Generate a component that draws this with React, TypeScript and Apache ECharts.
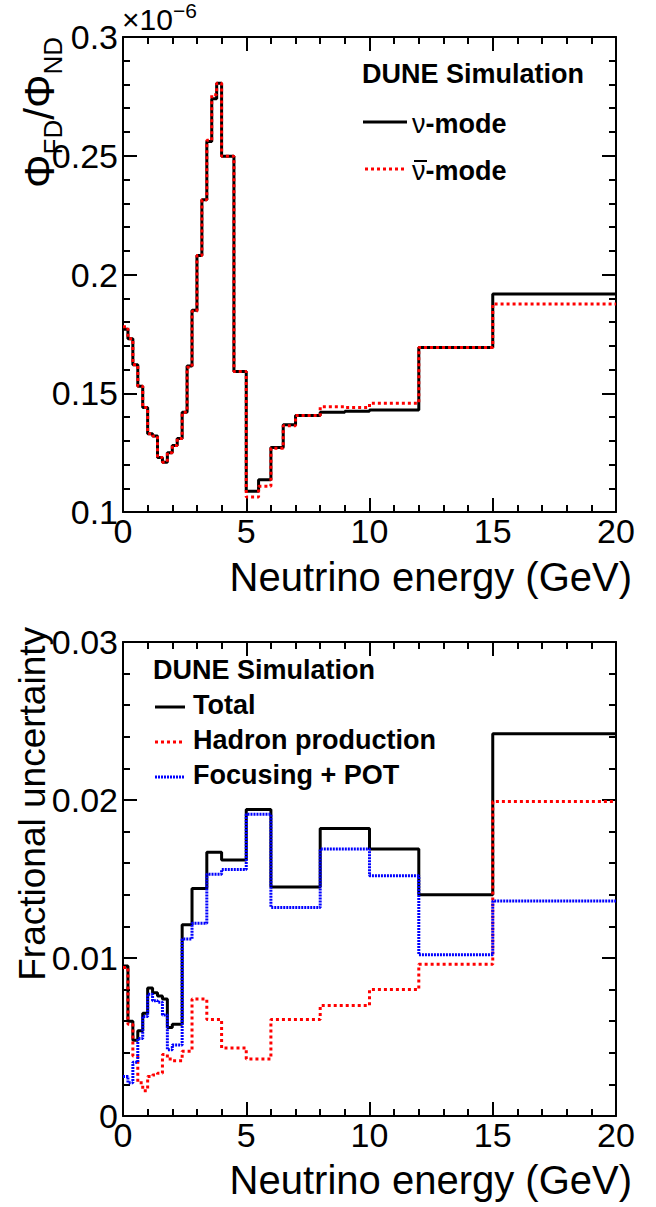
import React, { useEffect, useRef } from 'react';
import * as echarts from 'echarts';

const FONT = '"Liberation Sans", Arial, Helvetica, sans-serif';

// ---------- Top panel: far/near flux ratio (x 1e-6) ----------
const topEdges = [0, 0.2, 0.4, 0.6, 0.8, 1.0, 1.2, 1.4, 1.6, 1.8, 2.0, 2.2, 2.4, 2.6, 2.8, 3.0, 3.2, 3.4, 3.6, 3.8, 4.0, 4.5, 5.0, 5.5, 6.0, 6.5, 7.0, 8.0, 9.0, 10, 12, 15, 20];
const nuModeRatio = [0.177, 0.173, 0.162, 0.153, 0.144, 0.133, 0.132, 0.123, 0.121, 0.125, 0.128, 0.131, 0.142, 0.1615, 0.185, 0.208, 0.2315, 0.256, 0.274, 0.2805, 0.2498, 0.1592, 0.1087, 0.1136, 0.1272, 0.1367, 0.1406, 0.142, 0.1424, 0.1429, 0.1693, 0.1918];
const antiNuModeRatio = [0.178, 0.173, 0.162, 0.153, 0.144, 0.133, 0.132, 0.123, 0.121, 0.125, 0.128, 0.131, 0.142, 0.161, 0.1845, 0.208, 0.2315, 0.2565, 0.2757, 0.2805, 0.2498, 0.1592, 0.1063, 0.1108, 0.1268, 0.1363, 0.1406, 0.1443, 0.144, 0.1458, 0.1693, 0.1876];
const topYTicks = [0.1, 0.15, 0.2, 0.25, 0.3];

// ---------- Bottom panel: fractional uncertainty ----------
const bottomEdges = [0, 0.2, 0.4, 0.6, 0.8, 1.0, 1.2, 1.4, 1.6, 1.8, 2.0, 2.4, 2.8, 3.4, 4.0, 5, 6, 8, 10, 12, 15, 20];
const totalUnc = [0.0095, 0.006, 0.0048, 0.0054, 0.0065, 0.0081, 0.0078, 0.0076, 0.0074, 0.0056, 0.0058, 0.0121, 0.0144, 0.0167, 0.0162, 0.0194, 0.0145, 0.0182, 0.0169, 0.014, 0.0242];
const hadronUnc = [0.0094, 0.0058, 0.0038, 0.0021, 0.0016, 0.0025, 0.0026, 0.0027, 0.0039, 0.0036, 0.0035, 0.0041, 0.0074, 0.0061, 0.0043, 0.0036, 0.0061, 0.007, 0.008, 0.0096, 0.0199];
const focusingUnc = [0.0025, 0.0021, 0.0034, 0.0049, 0.0063, 0.0077, 0.0073, 0.0072, 0.0064, 0.0042, 0.0045, 0.0112, 0.0122, 0.0153, 0.0156, 0.0191, 0.0132, 0.0169, 0.0152, 0.0102, 0.0136];

const xTickLabels = ['0', '5', '10', '15', '20'];

function stepData(edges: number[], vals: number[]) {
  return edges.map((e, i) => [e, vals[Math.min(i, vals.length - 1)]]);
}

const BLACK = '#000000';
const RED = '#ff0000';
const BLUE = '#0000ff';
const RED_DASH = [3, 3];
const BLUE_DASH = [2, 1];

function xAxisCfg(gridIndex: number, position: 'top' | 'bottom', showLabel: boolean) {
  return {
    type: 'value',
    gridIndex,
    position,
    min: 0,
    max: 20,
    interval: 5,
    axisLine: { show: true, onZero: false, lineStyle: { color: BLACK, width: 2 } },
    axisTick: { show: true, inside: true, length: 14, lineStyle: { color: BLACK, width: 2 } },
    minorTick: { show: true, splitNumber: 5, length: 7, lineStyle: { color: BLACK, width: 2 } },
    splitLine: { show: false },
    axisLabel: {
      show: showLabel,
      color: BLACK,
      fontSize: 34,
      fontFamily: FONT,
      margin: 2,
      formatter: (v: number) => xTickLabels[Math.round(v / 5)] ?? String(v),
    },
  };
}

function yAxisCfg(gridIndex: number, position: 'left' | 'right', showLabel: boolean, min: number, max: number, interval: number, digits: number) {
  return {
    type: 'value',
    gridIndex,
    position,
    min,
    max,
    interval,
    axisLine: { show: true, onZero: false, lineStyle: { color: BLACK, width: 2 } },
    axisTick: { show: true, inside: true, length: 14, lineStyle: { color: BLACK, width: 2 } },
    minorTick: { show: true, splitNumber: 5, length: 7, lineStyle: { color: BLACK, width: 2 } },
    splitLine: { show: false },
    axisLabel: {
      show: showLabel,
      color: BLACK,
      fontSize: 34,
      fontFamily: FONT,
      margin: 5,
      formatter: (v: number) => String(+v.toFixed(digits)),
    },
  };
}

function stepSeries(name: string, xi: number, yi: number, edges: number[], vals: number[], color: string, dash: any, z: number) {
  return {
    name,
    type: 'line',
    xAxisIndex: xi,
    yAxisIndex: yi,
    step: 'end',
    symbol: 'none',
    silent: true,
    z,
    data: stepData(edges, vals),
    lineStyle: { color, width: 3, type: dash, cap: 'butt' },
    itemStyle: { color },
  };
}

function txt(x: number, y: number, text: string, extra: any = {}, rotation = 0) {
  return {
    type: 'text',
    x,
    y,
    rotation,
    silent: true,
    style: {
      text,
      fill: BLACK,
      fontFamily: FONT,
      fontSize: 27,
      fontWeight: 'bold',
      align: 'left',
      verticalAlign: 'middle',
      ...extra,
    },
  };
}

function legLine(x1: number, x2: number, y: number, color: string, dash: any) {
  return {
    type: 'line',
    silent: true,
    shape: { x1, y1: y, x2, y2: y },
    style: { stroke: color, lineWidth: 3, lineDash: dash },
  };
}

export default function App() {
  const ref = useRef<HTMLDivElement>(null);

  useEffect(() => {
    document.body.style.margin = '0';
    if (!ref.current) return;
    const chart = echarts.init(ref.current, undefined, { renderer: 'svg' });

    const option: any = {
      animation: false,
      backgroundColor: '#ffffff',
      grid: [
        { left: 123, top: 37, width: 493, height: 475 },
        { left: 123, top: 642, width: 493, height: 474 },
      ],
      xAxis: [
        xAxisCfg(0, 'bottom', true),
        xAxisCfg(0, 'top', false),
        xAxisCfg(1, 'bottom', true),
        xAxisCfg(1, 'top', false),
      ],
      yAxis: [
        yAxisCfg(0, 'left', true, topYTicks[0], topYTicks[topYTicks.length - 1], 0.05, 2),
        yAxisCfg(0, 'right', false, topYTicks[0], topYTicks[topYTicks.length - 1], 0.05, 2),
        yAxisCfg(1, 'left', true, 0, 0.03, 0.01, 3),
        yAxisCfg(1, 'right', false, 0, 0.03, 0.01, 3),
      ],
      series: [
        stepSeries('ν-mode', 0, 0, topEdges, nuModeRatio, BLACK, 'solid', 2),
        stepSeries('ν̄-mode', 0, 0, topEdges, antiNuModeRatio, RED, RED_DASH, 3),
        stepSeries('Total', 2, 2, bottomEdges, totalUnc, BLACK, 'solid', 2),
        stepSeries('Hadron production', 2, 2, bottomEdges, hadronUnc, RED, RED_DASH, 3),
        stepSeries('Focusing + POT', 2, 2, bottomEdges, focusingUnc, BLUE, BLUE_DASH, 4),
      ],
      graphic: [
        // exponent of top panel
        txt(122, 17, '{a|×10}{b|−6}', {
          fontWeight: 'normal',
          rich: {
            a: { fontSize: 30, fontFamily: FONT, fill: BLACK, verticalAlign: 'bottom' },
            b: { fontSize: 21, fontFamily: FONT, fill: BLACK, verticalAlign: 'top', padding: [0, 0, 14, 0] },
          },
        }),
        // top y title
        txt(42, 37, '{m|Φ}{s|FD}{m|/Φ}{s|ND}', {
          fontWeight: 'normal',
          align: 'right',
          rich: {
            m: { fontSize: 42, fontFamily: FONT, fill: BLACK, verticalAlign: 'top' },
            s: { fontSize: 26, fontFamily: FONT, fill: BLACK, verticalAlign: 'bottom', padding: [22, 0, 0, 0] },
          },
        }, Math.PI / 2),
        // x titles
        txt(632, 577, 'Neutrino energy (GeV)', { fontWeight: 'normal', fontSize: 40, align: 'right' }),
        txt(632, 1180, 'Neutrino energy (GeV)', { fontWeight: 'normal', fontSize: 40, align: 'right' }),
        // bottom y title
        txt(32, 627, 'Fractional uncertainty', { fontWeight: 'normal', fontSize: 37, align: 'right' }, Math.PI / 2),

        // top legend
        txt(362, 74, 'DUNE Simulation'),
        legLine(363, 407, 122, BLACK, null),
        txt(412, 124, '{n|ν}{b|-mode}', {
          rich: {
            n: { fontSize: 27, fontFamily: FONT, fontWeight: 'normal', fill: BLACK },
            b: { fontSize: 27, fontFamily: FONT, fontWeight: 'bold', fill: BLACK },
          },
        }),
        legLine(365, 405, 169, RED, RED_DASH),
        txt(412, 171, '{n|ν}{b|-mode}', {
          rich: {
            n: { fontSize: 27, fontFamily: FONT, fontWeight: 'normal', fill: BLACK },
            b: { fontSize: 27, fontFamily: FONT, fontWeight: 'bold', fill: BLACK },
          },
        }),
        {
          type: 'line',
          silent: true,
          shape: { x1: 414, y1: 161, x2: 427, y2: 161 },
          style: { stroke: BLACK, lineWidth: 2 },
        },

        // bottom legend
        txt(153, 670, 'DUNE Simulation'),
        legLine(155, 185, 707, BLACK, null),
        txt(193, 705, 'Total'),
        legLine(155, 185, 742, RED, RED_DASH),
        txt(193, 740, 'Hadron production'),
        legLine(155, 185, 777, BLUE, BLUE_DASH),
        txt(193, 775, 'Focusing + POT'),
      ],
    };

    chart.setOption(option);
    return () => {
      chart.dispose();
    };
  }, []);

  return <div ref={ref} style={{ width: 656, height: 1207 }} />;
}
